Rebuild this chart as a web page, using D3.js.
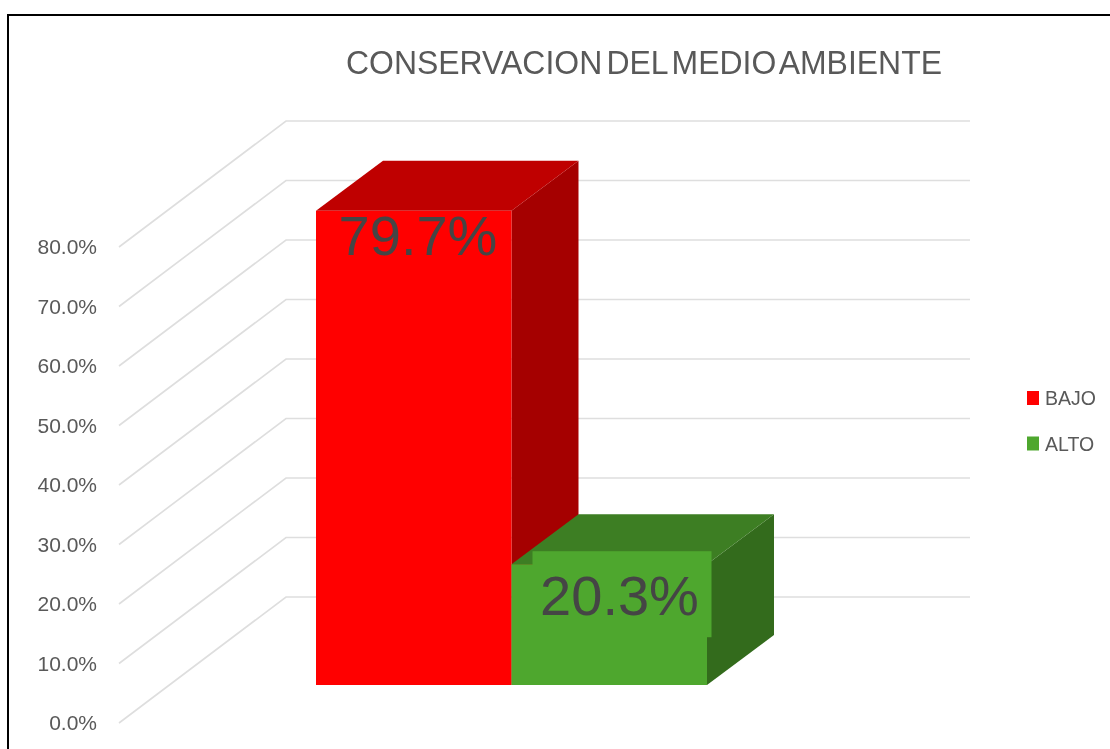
<!DOCTYPE html>
<html>
<head>
<meta charset="utf-8">
<script src="https://cdn.jsdelivr.net/npm/d3@7"></script>
<style>
  html, body { margin: 0; padding: 0; background: #fff; overflow: hidden; }
  svg { display: block; filter: blur(0.45px); }
  text { font-family: "Liberation Sans", sans-serif; }
</style>
</head>
<body>
<div id="plot"></div>
<script>
const chartTitle = "CONSERVACION DEL MEDIO AMBIENTE"
const categories = ["BAJO", "ALTO"]
const values = [79.7, 20.3]
const tickValues = [0, 10, 20, 30, 40, 50, 60, 70, 80]
const frontColors = ["#ff0000", "#4ea72e"]
const topColors = ["#bf0000", "#3d7e23"]
const sideColors = ["#a50000", "#336b1c"]

const width = 1110
const height = 749

// 3d offsets: axis plane to back wall, and the depth of a bar
const wallX = 167, wallY = 126
const depthX = 67, depthY = 50
const floorGap = 38

const y = d3.scaleLinear().domain([0, 80]).range([723, 247])
const x = d3.scaleBand().domain(categories).range([316, 707])

const canvas = d3.select("#plot").append("svg")
    .attr("width", width)
    .attr("height", height)

// frame of the pasted picture, bottom and right are cut off
canvas.append("path")
    .attr("d", "M8,749V15H1110")
    .attr("fill", "none")
    .attr("stroke", "#000")
    .attr("stroke-width", 2)

canvas.append("text")
    .attr("x", 644)
    .attr("y", 74)
    .attr("text-anchor", "middle")
    .attr("font-size", 34)
    .attr("word-spacing", -5)
    .attr("fill", "#595959")
    .attr("textLength", 596)
    .attr("lengthAdjust", "spacingAndGlyphs")
    .text(chartTitle)

// gridlines run along the side wall and then the back wall
const axisStartX = 119
canvas.append("g").selectAll("path")
    .data(tickValues)
    .enter().append("path")
    .attr("fill", "none")
    .attr("stroke", "#dedede")
    .attr("stroke-width", 1.6)
    .attr("d", d => `M${axisStartX},${y(d)}L${axisStartX + wallX},${y(d) - wallY}H970`)

const yAxis = d3.axisLeft(y)
    .tickValues(tickValues)
    .tickSize(0)
    .tickPadding(0)
    .tickFormat(d => d.toFixed(1) + "%")

const axisG = canvas.append("g")
    .attr("transform", "translate(97,0)")
    .call(yAxis)
axisG.select(".domain").remove()
axisG.selectAll("text")
    .attr("font-size", 21)
    .attr("font-family", "Liberation Sans")
    .attr("fill", "#595959")

// bars stand on the floor, floorGap above the axis zero
const barY = v => y(v) - floorGap
const bars = canvas.selectAll("g.bar")
    .data(categories)
    .enter().append("g")
    .attr("class", "bar")

bars.append("path")
    .attr("fill", (d, i) => sideColors[i])
    .attr("d", (d, i) => {
      const r = x(d) + x.bandwidth()
      return `M${r},${barY(values[i])}l${depthX},${-depthY}V${barY(0) - depthY}l${-depthX},${depthY}Z`
    })

bars.append("path")
    .attr("fill", (d, i) => topColors[i])
    .attr("d", (d, i) => {
      const t = barY(values[i])
      return `M${x(d)},${t}h${x.bandwidth()}l${depthX},${-depthY}h${-x.bandwidth()}Z`
    })

bars.append("rect")
    .attr("fill", (d, i) => frontColors[i])
    .attr("x", d => x(d))
    .attr("y", (d, i) => barY(values[i]))
    .attr("width", x.bandwidth())
    .attr("height", (d, i) => barY(0) - barY(values[i]))

// the ALTO label has a filled box behind it in the original
canvas.append("rect")
    .attr("x", x("ALTO") + 21)
    .attr("y", barY(values[1]) - 13)
    .attr("width", 179)
    .attr("height", 86)
    .attr("fill", frontColors[1])

const labelX = [418, 619.5]
const labelY = [barY(values[0]) + 44, barY(values[1]) + 51]
canvas.selectAll("text.value")
    .data(values)
    .enter().append("text")
    .attr("class", "value")
    .attr("x", (d, i) => labelX[i])
    .attr("y", (d, i) => labelY[i])
    .attr("text-anchor", "middle")
    .attr("font-size", 56)
    .attr("font-family", "Liberation Sans")
    .attr("fill", "#454545")
    .text(d => d.toFixed(1) + "%")

const legend = canvas.selectAll("g.legend")
    .data(categories)
    .enter().append("g")
    .attr("class", "legend")
    .attr("transform", (d, i) => `translate(1027,${391 + i * 45.5})`)

legend.append("rect")
    .attr("width", 12)
    .attr("height", 14)
    .attr("fill", (d, i) => frontColors[i])

legend.append("text")
    .attr("x", 18)
    .attr("y", 14)
    .attr("font-size", 19.5)
    .attr("fill", "#595959")
    .text(d => d)
</script>
</body>
</html>
